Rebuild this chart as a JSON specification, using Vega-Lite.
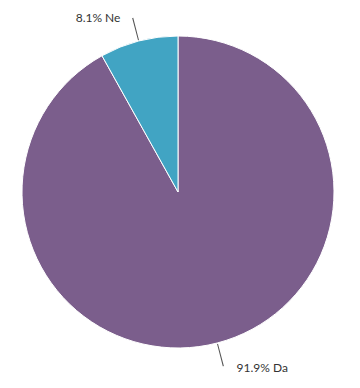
{
  "$schema": "https://vega.github.io/schema/vega-lite/v6.json",
  "width": 356,
  "height": 384,
  "padding": 0,
  "autosize": {"type": "none"},
  "background": "#ffffff",
  "view": {"stroke": null},
  "data": {"values": [
    {"label": "Da", "value": 91.9},
    {"label": "Ne", "value": 8.1}
  ]},
  "transform": [
    {"window": [{"op": "sum", "field": "value", "as": "cum"}], "sort": [{"field": "label", "order": "ascending"}], "frame": [null, 0]},
    {"calculate": "datum.cum - datum.value / 2", "as": "mid"},
    {"calculate": "datum.mid - 0.05", "as": "m0"},
    {"calculate": "datum.mid + 0.05", "as": "m1"},
    {"calculate": "format(datum.value, '.1f') + '% ' + datum.label", "as": "lab"}
  ],
  "layer": [
    {
      "mark": {"type": "arc", "outerRadius": 156, "stroke": "#ffffff", "strokeWidth": 1},
      "encoding": {
        "theta": {"field": "value", "type": "quantitative", "stack": true, "scale": {"domain": [0, 100]}},
        "color": {"field": "label", "type": "nominal", "scale": {"domain": ["Da", "Ne"], "range": ["#7b5e8c", "#41a4c3"]}, "legend": null},
        "order": {"field": "label", "sort": "ascending"}
      }
    },
    {
      "mark": {"type": "arc", "innerRadius": 157, "outerRadius": 180, "fill": "#555555"},
      "encoding": {
        "theta": {"field": "m0", "type": "quantitative", "stack": null, "scale": {"domain": [0, 100]}},
        "theta2": {"field": "m1"}
      }
    },
    {
      "transform": [{"filter": "datum.label == 'Ne'"}],
      "mark": {"type": "text", "radius": 181, "align": "right", "baseline": "middle", "dx": -12, "dy": 1.5, "font": "Lato", "fontSize": 12, "fill": "#333333"},
      "encoding": {
        "theta": {"field": "mid", "type": "quantitative", "stack": null, "scale": {"domain": [0, 100]}},
        "text": {"field": "lab"}
      }
    },
    {
      "transform": [{"filter": "datum.label == 'Da'"}],
      "mark": {"type": "text", "radius": 181, "align": "left", "baseline": "middle", "dx": 13, "dy": 1, "font": "Lato", "fontSize": 12, "fill": "#333333"},
      "encoding": {
        "theta": {"field": "mid", "type": "quantitative", "stack": null, "scale": {"domain": [0, 100]}},
        "text": {"field": "lab"}
      }
    }
  ],
  "resolve": {"scale": {"theta": "independent"}}
}
